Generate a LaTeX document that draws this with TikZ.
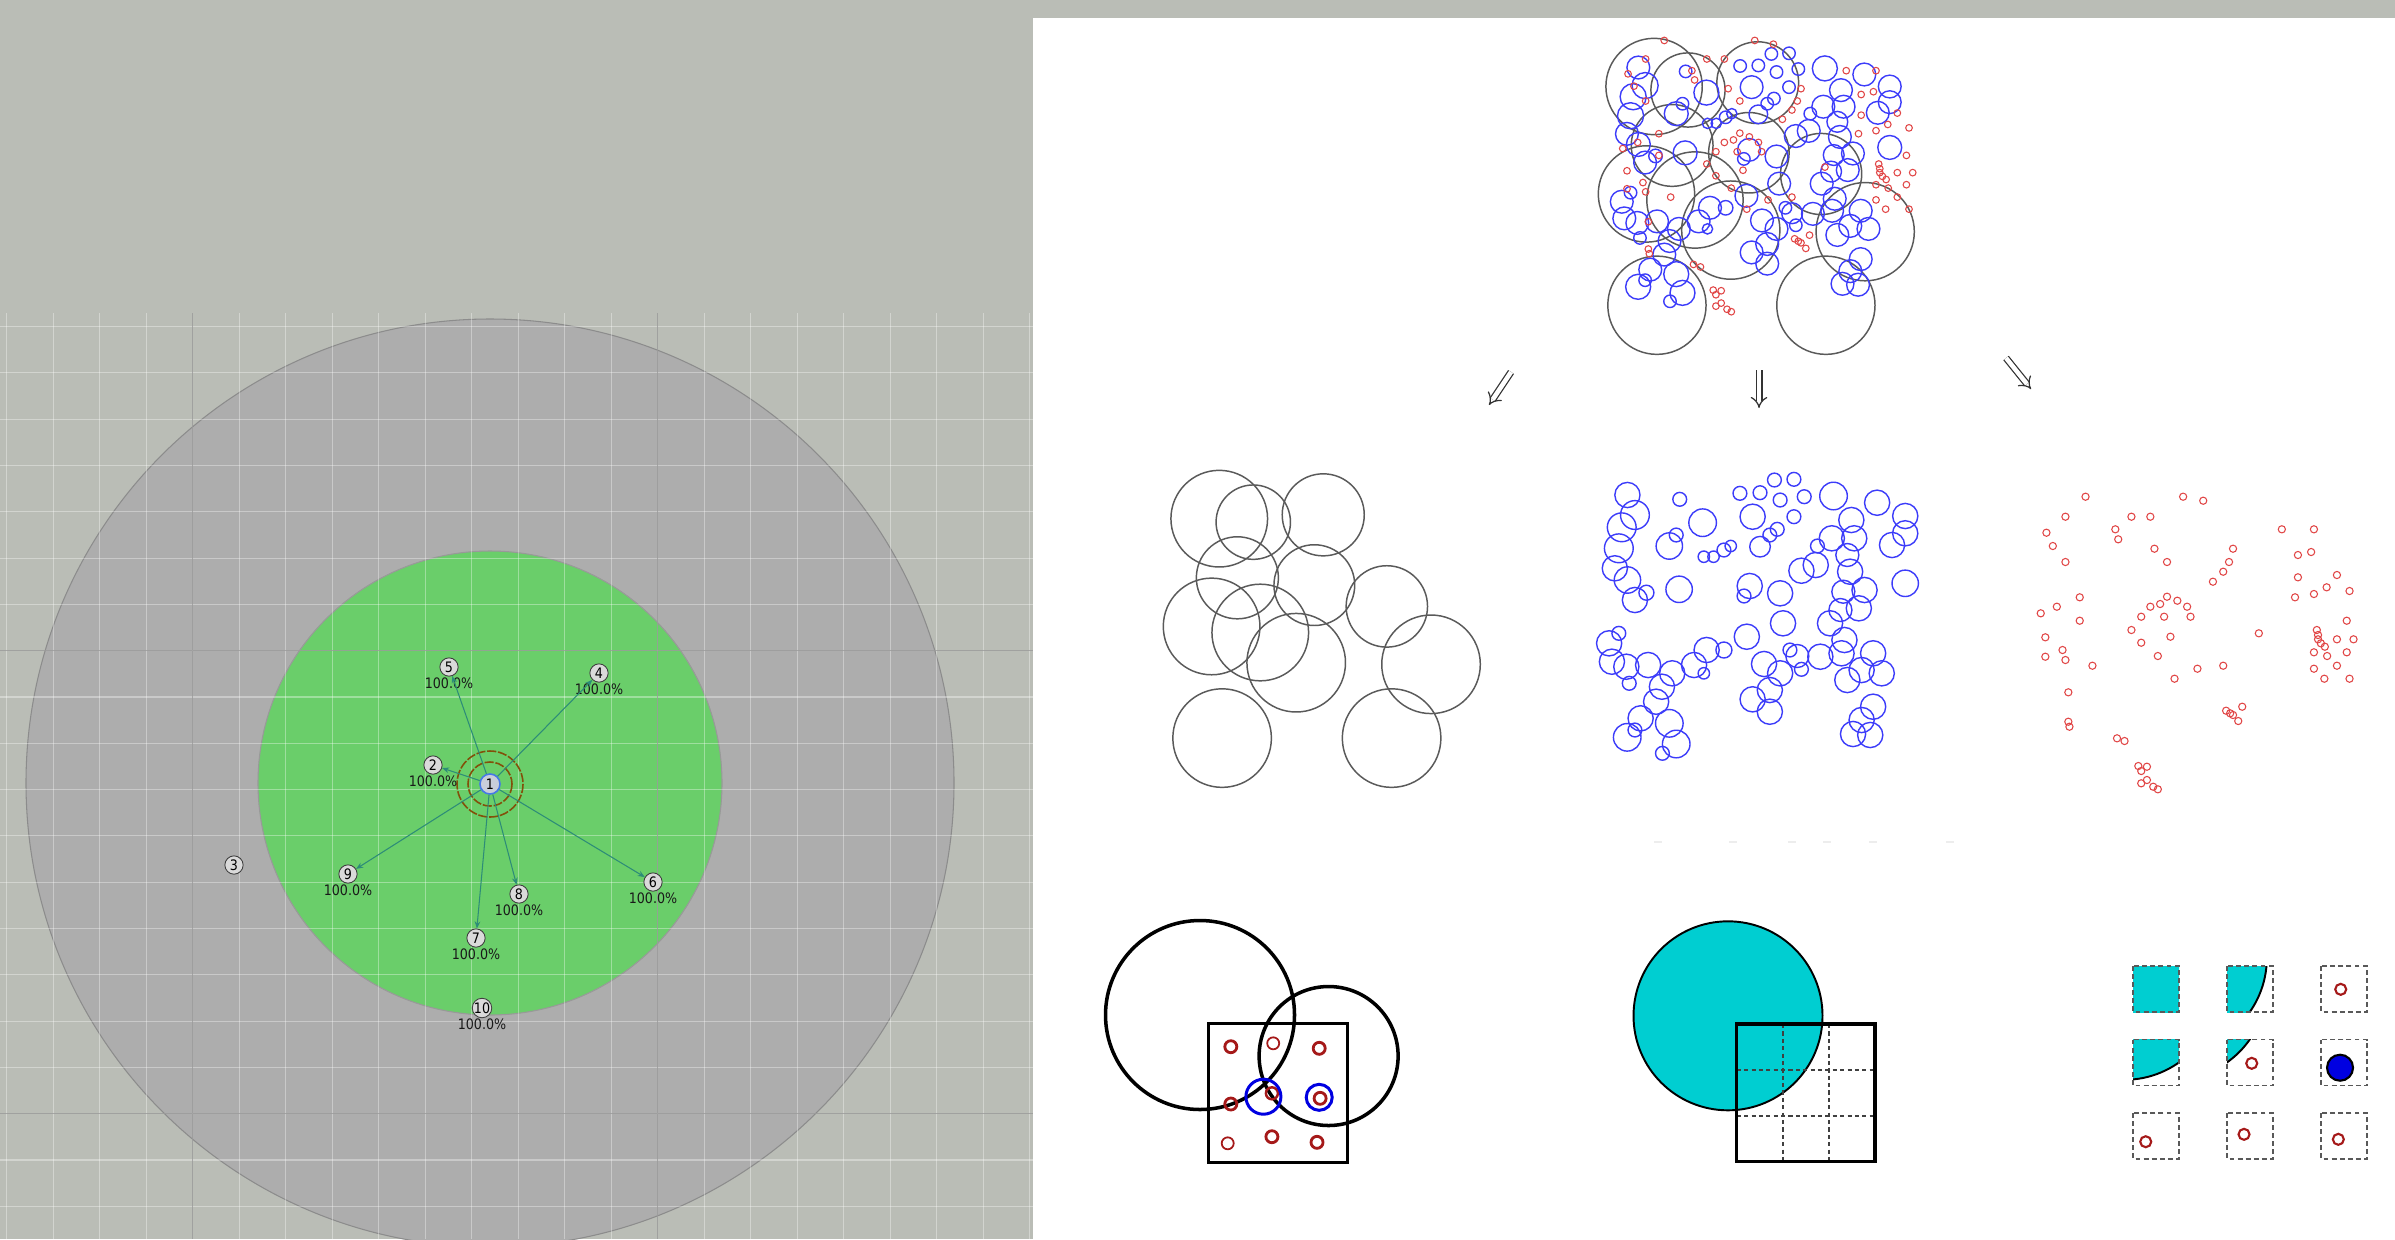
\documentclass[tikz,border=0pt]{standalone}
\usepackage{fontspec}
\newfontfamily\netfont[FakeStretch=0.88]{DejaVu Sans}
\usetikzlibrary{arrows.meta}
\definecolor{simbg}{RGB}{186,189,182}
\definecolor{rangegray}{RGB}{173,173,173}
\definecolor{rangegreen}{RGB}{106,206,106}
\definecolor{linkteal}{RGB}{45,140,120}
\definecolor{ringbrown}{RGB}{130,80,10}
\definecolor{motefill}{RGB}{218,218,218}
\definecolor{sinkfill}{RGB}{200,206,218}
\definecolor{sinkblue}{RGB}{70,120,230}
\definecolor{coarsegray}{RGB}{90,90,90}
\definecolor{mediumblue}{RGB}{60,60,250}
\definecolor{finered}{RGB}{225,70,70}
\definecolor{samplered}{RGB}{165,25,25}
\definecolor{hitblue}{RGB}{0,0,225}
\definecolor{covercyan}{RGB}{0,206,209}

% circle sets: coarse (u/v/r, unit box), medium (px/px/px), fine (px/px)
\def\coarsecells{0.180/0.153/0.152, 0.287/0.164/0.117, 0.507/0.141/0.129, 0.237/0.339/0.129,
  0.479/0.362/0.127, 0.156/0.492/0.152, 0.309/0.511/0.152, 0.422/0.606/0.155,
  0.707/0.429/0.128, 0.846/0.611/0.155, 0.189/0.843/0.155, 0.722/0.843/0.155}
\def\mediumcells{29.4/23/12.6, 36.9/43/14.4, 23.7/55.3/14.4, 20.8/76.3/14.4, 16.8/96.3/12.6,
  29.4/108/13.2, 36.9/128/12.6, 48.4/120.7/7.5, 81.7/27.3/6.9, 71.3/74/13.2, 78.2/63/6.9,
  104.6/50.7/13.8, 81.1/117.3/13.2, 105.8/84.7/5.7, 115.5/84.7/5.7, 125.9/78/6.9, 132.7/74/5.7,
  141.9/21.3/6.9, 162/20.7/6.9, 176.4/8/6.9, 195.9/7.3/6.9, 182.1/28/6.9, 206.2/24.7/6.9,
  195.9/44.7/6.9, 154.6/44.7/12.6, 162/74.7/10.3, 171.8/63/6.9, 179.2/57.3/6.9, 235.5/24/13.8,
  279.1/30.7/12.6, 307.2/44/12.6, 307.2/61.3/12.6, 294/73/12.6, 253.3/48/12.6, 256.2/66.3/12.6,
  233.8/66.3/12.6, 219.4/74/6.9, 203.4/98.7/12.6, 217.7/93/12.6, 249.3/83/11.5, 252.1/99.7/12.6,
  307.2/111.3/13.2, 151.7/114/12.6, 146/124/6.9, 182.1/121.3/12.6, 266.5/118/12.6,
  245.3/119.7/11.5, 242.4/138/11.5, 260.8/136.3/12.6, 232/151.3/12.6, 185/151.3/12.6,
  148.8/164.7/12.6, 246.4/168/12.6, 11.1/171.3/12.6, 20.8/161.3/6.9, 13.9/189.7/12.6,
  28.3/194.7/12.6, 50.1/193/12.6, 31.2/211.3/6.9, 74.2/201.3/12.6, 63.9/214.7/12.6, 96/193/12.6,
  105.8/201.3/5.7, 108.6/178/12.6, 125.9/178/8, 58.1/229.7/12.6, 42.6/246.3/12.6, 36.9/258/6.9,
  29.2/265.3/13.8, 71.3/251.3/13.8, 78.2/272/13.8, 64.4/281.3/6.9, 166/192/12.6, 182.1/201.3/12.6,
  171.8/218/12.6, 154.6/227.3/12.6, 171.8/239.7/12.6, 191.9/178/6.9, 203.4/197.3/6.9,
  199.3/184/11.5, 222.3/184.7/12.6, 243.5/181.3/12.6, 275.1/181.3/12.6, 263.6/198/12.6,
  283.7/201.3/12.6, 249.3/208/12.6, 275.1/234.7/12.6, 263.6/248/12.6, 255/262/12.6, 272.2/263/12.6}
\def\finecells{45.9/3.4, 143.5/3.4, 163.6/7.4, 25.8/23.4, 91.8/23.4, 110.7/23.4, 6.8/39.4,
  75.7/36, 78.6/46, 242.2/36, 274.3/36, 13.2/52.7, 114.8/55.4, 193.4/55.4, 258.3/61.7,
  271.5/58.7, 25.8/68.7, 127.4/68.7, 189.4/68.7, 183.6/78.4, 173.3/88.4, 258.3/84, 297.3/81.7,
  287/94, 274.3/100.7, 255.4/104, 309.9/97.7, 40.1/104, 17.2/113.4, 1.1/120, 40.1/127.4,
  110.7/113.4, 120.5/110.7, 127.4/103.4, 137.7/107.4, 147.5/113.4, 101.6/123.4, 124.5/123.4,
  150.9/123.4, 91.8/136.7, 130.8/143.4, 101.6/149.4, 118.2/162.7, 219.2/140, 307.1/127.4,
  277.2/136.7, 278.4/141.7, 278.4/146, 281.2/150, 285.2/153.4, 297.3/146, 313.9/146, 274.3/159,
  287.5/162.7, 307.1/159, 5.7/144, 22.9/156.7, 5.7/163.4, 25.8/166.7, 52.8/172.4, 157.8/175.4,
  183.6/172.4, 134.9/185.4, 274.3/175.4, 297.3/172.4, 284.7/185.4, 309.9/185.4, 28.7/199,
  28.7/228.4, 29.8/233.4, 186.5/217.4, 193.4/221.7, 198.6/227.7, 202.6/213.4, 190.5/220,
  77.4/245, 84.9/247.7, 98.7/272.7, 107.3/273.4, 101.6/277.7, 107.3/286.7, 101.6/290,
  113.6/293.4, 118.2/296}

\tikzset{
  mote/.style={circle, draw=black!75, fill=motefill, line width=0.25pt, inner sep=0pt,
    minimum size=5.2pt, label distance=0.3pt, font=\netfont\fontsize{4.1}{4.3}\selectfont},
  pct/.style={inner sep=0pt, text=black!90, font=\netfont\fontsize{4.1}{4.3}\selectfont},
  radio/.style={draw=linkteal, line width=0.3pt, -{Stealth[length=2pt,width=1.6pt]}},
  ring/.style={draw=ringbrown, line width=0.45pt, dash pattern=on 2.6pt off 0.5pt},
  gridlight/.style={draw=white, opacity=0.35, line width=0.3pt},
  griddark/.style={draw=black!45, opacity=0.7, line width=0.35pt},
  coarse/.style={draw=coarsegray, line width=0.42pt},
  medium/.style={draw=mediumblue, line width=0.4pt},
  fine/.style={draw=finered, line width=0.3pt},
  split/.style={double=white, draw=black!80, double distance=1.3pt, line width=0.35pt, -{Implies}},
  boldline/.style={draw=black, line width=1pt},
  sample/.style={draw=samplered, line width=0.75pt},
  cellbox/.style={draw=black!65, line width=0.55pt, dash pattern=on 1.4pt off 0.9pt},
}

\begin{document}
\begin{tikzpicture}[x=0.01cm, y=-0.01cm]
  \useasboundingbox (0,0) rectangle (2395,1239);
  \fill[simbg] (0,0) rectangle (2395,1239);

  % simulator view
  \filldraw[fill=rangegray, draw=black!45, line width=0.3pt] (490,783) circle (464);
  \filldraw[fill=rangegreen, draw=black!40, line width=0.3pt] (490,783) circle (232);
  \begin{scope}
    \clip (0,313) rectangle (1033,1239);
    \foreach \k in {-4,...,18}
      \draw[gridlight] ({192.7+46.5*\k},313) -- ({192.7+46.5*\k},1239);
    \foreach \k in {-7,...,12}
      \draw[gridlight] (0,{650.7+46.3*\k}) -- (1033,{650.7+46.3*\k});
    \draw[griddark] (192.7,313) -- (192.7,1239) (657.7,313) -- (657.7,1239)
      (0,650.7) -- (1033,650.7) (0,1113.7) -- (1033,1113.7);
  \end{scope}

  \node[mote, fill=sinkfill, draw=sinkblue, line width=0.45pt, minimum size=5.7pt] (n1) at (490,784) {1};
  \draw[ring] (n1.center) circle (22);
  \draw[ring] (n1.center) circle (33);
  \node[mote, label={[pct]below:100.0\%}] (n2) at (433,765) {2};
  \node[mote] (n3) at (234,865) {3};
  \node[mote, label={[pct]below:100.0\%}] (n4) at (599,673) {4};
  \node[mote, label={[pct]below:100.0\%}] (n5) at (449,667) {5};
  \node[mote, label={[pct]below:100.0\%}] (n6) at (653,882) {6};
  \node[mote, label={[pct]below:100.0\%}] (n7) at (476,938) {7};
  \node[mote, label={[pct]below:100.0\%}] (n8) at (519,894) {8};
  \node[mote, label={[pct]below:100.0\%}] (n9) at (348,874) {9};
  \node[mote, label={[pct]below:100.0\%}] (n10) at (482,1008) {10};
  \foreach \t in {2,4,5,6,7,8,9}
    \draw[radio] (n1) -- (n\t);

  % figure panel
  \fill[white] (1033,18) rectangle (2395,1239);

  % all sets together
  \begin{scope}[shift={(1597,38)}, scale=317]
    \foreach \cu/\cv/\cr in \coarsecells \draw[coarse] (\cu,\cv) circle (\cr);
  \end{scope}
  \begin{scope}[shift={(1611.7,46.7)}, scale=0.905]
    \foreach \mx/\my/\mr in \mediumcells \draw[medium] (\mx,\my) circle (\mr);
  \end{scope}
  \begin{scope}[shift={(1621.7,37.3)}, scale=0.927]
    \foreach \fx/\fy in \finecells \draw[fine] (\fx,\fy) circle (3.6);
  \end{scope}

  \coordinate (fromL) at (1511,372);  \coordinate (toL) at (1489,405);
  \coordinate (fromM) at (1759,370);  \coordinate (toM) at (1759,408);
  \coordinate (fromR) at (2006,358);  \coordinate (toR) at (2031,389);
  \draw[split] (fromL) -- (toL);
  \draw[split] (fromM) -- (toM);
  \draw[split] (fromR) -- (toR);

  % the three sets apart
  \begin{scope}[shift={(1162,470)}, scale=318]
    \foreach \cu/\cv/\cr in \coarsecells \draw[coarse] (\cu,\cv) circle (\cr);
  \end{scope}
  \begin{scope}[shift={(1598,472)}]
    \foreach \mx/\my/\mr in \mediumcells \draw[medium] (\mx,\my) circle (\mr);
  \end{scope}
  \begin{scope}[shift={(2039.6,493.3)}]
    \foreach \fx/\fy in \finecells \draw[fine] (\fx,\fy) circle (3.6);
  \end{scope}
  \foreach \gx in {1658,1733,1792,1827,1873,1950}
    \draw[black!7, line width=0.6pt] ({\gx-4},842) -- ({\gx+4},842);

  % sampling a block
  \draw[boldline] (1200,1015) circle (94.5);
  \draw[boldline] (1328.6,1056) circle (69.5);
  \draw[boldline] (1208.5,1023.3) rectangle (1347.3,1162.7);
  \foreach \sx/\sy/\sw in {1230.8/1046.7/0.8, 1273.2/1043.3/0.5, 1319.2/1048.3/0.8,
      1230.8/1104/0.8, 1271.9/1093.3/0.7, 1320.1/1098.3/0.8,
      1227.7/1143.3/0.5, 1271.9/1136.7/0.8, 1317/1142.3/0.8}
    \draw[sample, line width=\sw pt] (\sx,\sy) circle (6);
  \draw[draw=hitblue, line width=0.85pt] (1263.4,1096.7) circle (17.5);
  \draw[draw=hitblue, line width=0.85pt] (1319.2,1097.3) circle (13);

  % covered block
  \filldraw[fill=covercyan, draw=black, line width=0.55pt] (1728,1015.8) circle (94.5);
  \draw[black!75, line width=0.4pt, dash pattern=on 1.2pt off 0.9pt]
    (1782.8,1024) -- (1782.8,1161.7) (1828.9,1024) -- (1828.9,1161.7)
    (1736.7,1069.9) -- (1875,1069.9) (1736.7,1115.8) -- (1875,1115.8);
  \draw[line width=0.95pt] (1736.7,1024) rectangle (1875,1161.7);

  % cells taken apart
  \foreach \cc in {0,1,2} \foreach \rr in {0,1,2} {
    \begin{scope}
      \clip ({2133+94*\cc},{966+73.5*\rr}) rectangle +(46,46);
      \filldraw[fill=covercyan, draw=black, line width=0.55pt]
        ({2124.3+48*\cc},{957.8+27.5*\rr}) circle (94.5);
    \end{scope}
    \draw[cellbox] ({2133+94*\cc},{966+73.5*\rr}) rectangle +(46,46);
  }
  \foreach \sx/\sy in {2340.7/989.3, 2251.7/1063.3, 2145.7/1141.7, 2244/1134.3, 2338.3/1139.3}
    \draw[sample, line width=0.6pt] (\sx,\sy) circle (5.5);
  \filldraw[fill=hitblue, draw=black, line width=0.6pt] (2340,1067.7) circle (13);
\end{tikzpicture}
\end{document}
